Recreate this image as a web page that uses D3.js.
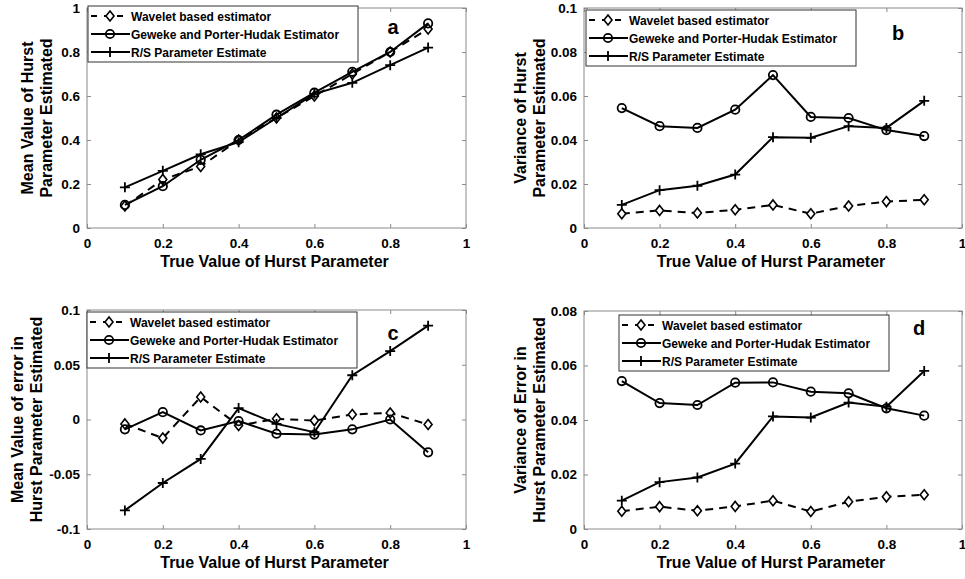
<!DOCTYPE html>
<html>
<head>
<meta charset="utf-8">
<script src="https://cdn.jsdelivr.net/npm/d3@7"></script>
<style>
  body { margin: 0; background: #fff; }
  svg { font-family: "Liberation Sans", Arial, sans-serif; font-weight: bold; }
</style>
</head>
<body>
<svg width="965" height="579"></svg>
<script>
// true Hurst values (x axis for every panel)
var hurst = [0.1, 0.2, 0.3, 0.4, 0.5, 0.6, 0.7, 0.8, 0.9];

// a: mean value of Hurst parameter estimated
var meanWavelet = [0.10, 0.22, 0.28, 0.40, 0.50, 0.60, 0.70, 0.80, 0.905];
var meanGPH     = [0.105, 0.19, 0.31, 0.40, 0.515, 0.615, 0.71, 0.80, 0.93];
var meanRS      = [0.185, 0.26, 0.335, 0.39, 0.50, 0.61, 0.66, 0.74, 0.82];

// b: variance of Hurst parameter estimated
var varWavelet = [0.0065, 0.008, 0.0068, 0.0083, 0.0105, 0.0065, 0.010, 0.012, 0.0128];
var varGPH     = [0.0545, 0.0463, 0.0455, 0.0538, 0.0695, 0.0505, 0.0500, 0.0445, 0.0418];
var varRS      = [0.0105, 0.0172, 0.0192, 0.0243, 0.0413, 0.041, 0.0463, 0.0455, 0.0578];

// c: mean value of error
var errWavelet = [-0.004, -0.017, 0.0205, -0.0055, 0.0006, -0.001, 0.0046, 0.006, -0.0046];
var errGPH     = [-0.009, 0.0067, -0.010, -0.0015, -0.013, -0.0138, -0.009, 0.0, -0.030];
var errRS      = [-0.083, -0.058, -0.036, 0.0104, -0.004, -0.0116, 0.0404, 0.0625, 0.0857];

// d: variance of error
var errVarWavelet = [0.0065, 0.0082, 0.0067, 0.0083, 0.0104, 0.0064, 0.010, 0.0118, 0.0126];
var errVarGPH     = [0.0543, 0.0462, 0.0455, 0.0537, 0.0538, 0.0504, 0.0498, 0.0443, 0.0416];
var errVarRS      = [0.0104, 0.0172, 0.0189, 0.024, 0.0413, 0.0409, 0.0464, 0.0449, 0.058];

// tick labels
var xTicks = [0, 0.2, 0.4, 0.6, 0.8, 1];
var ticksA = [0, 0.2, 0.4, 0.6, 0.8, 1];
var ticksB = [0, 0.02, 0.04, 0.06, 0.08, 0.1];
var ticksC = [-0.1, -0.05, 0, 0.05, 0.1];
var ticksD = [0, 0.02, 0.04, 0.06, 0.08];

var seriesNames = ['Wavelet based estimator', 'Geweke and Porter-Hudak Estimator', 'R/S Parameter Estimate'];
var xTitle = 'True Value of Hurst Parameter';

var svg = d3.select('svg');
var fmt = d => String(+d.toFixed(3));

var panels = [
  { tag: 'a', left: 87, right: 466, top: 8, bottom: 228, domain: [0, 1], ticks: ticksA,
    series: [meanWavelet, meanGPH, meanRS], yTitle: ['Mean Value of Hurst', 'Parameter Estimated'],
    yOff: 44, legend: [88, 6], tagPos: [393, 27] },
  { tag: 'b', left: 584, right: 962, top: 8, bottom: 228, domain: [0, 0.1], ticks: ticksB,
    series: [varWavelet, varGPH, varRS], yTitle: ['Variance of Hurst', 'Parameter Estimated'],
    yOff: 48, legend: [586, 10], tagPos: [898, 33] },
  { tag: 'c', left: 87, right: 466, top: 310, bottom: 529, domain: [-0.1, 0.1], ticks: ticksC,
    series: [errWavelet, errGPH, errRS], yTitle: ['Mean Value of error in', 'Hurst Parameter Estimated'],
    yOff: 54, legend: [87, 312], tagPos: [393, 333] },
  { tag: 'd', left: 584, right: 962, top: 311, bottom: 529, domain: [0, 0.08], ticks: ticksD,
    series: [errVarWavelet, errVarGPH, errVarRS], yTitle: ['Variance of Error in', 'Hurst Parameter Estimated'],
    yOff: 48, legend: [619, 315], tagPos: [919, 328] }
];

function drawMarker(g, type, x, y) {
  if (type === 0) {
    g.append('path')
      .attr('d', `M${x},${y - 5}L${x + 4},${y}L${x},${y + 5}L${x - 4},${y}Z`)
      .attr('fill', '#fff').attr('stroke', '#000').attr('stroke-width', 1.6);
  } else if (type === 1) {
    g.append('circle').attr('cx', x).attr('cy', y).attr('r', 4.2)
      .attr('fill', 'none').attr('stroke', '#000').attr('stroke-width', 1.8);
  } else {
    g.append('path')
      .attr('d', `M${x - 5},${y}H${x + 5}M${x},${y - 5}V${y + 5}`)
      .attr('stroke', '#000').attr('stroke-width', 1.8);
  }
}

panels.forEach(p => {
  var x = d3.scaleLinear().domain([0, 1]).range([p.left, p.right]);
  var y = d3.scaleLinear().domain(p.domain).range([p.bottom, p.top]);
  var g = svg.append('g');

  // box
  g.append('rect')
    .attr('x', p.left).attr('y', p.top)
    .attr('width', p.right - p.left).attr('height', p.bottom - p.top)
    .attr('fill', 'none').attr('stroke', '#8a8a8a').attr('stroke-width', 1);

  // axes with inward ticks
  g.append('g').attr('transform', `translate(0,${p.bottom})`)
    .call(d3.axisBottom(x).tickValues(xTicks).tickFormat(fmt).tickSizeInner(-4).tickSizeOuter(0).tickPadding(10));
  g.append('g').attr('transform', `translate(0,${p.top})`)
    .call(d3.axisTop(x).tickValues(xTicks).tickFormat('').tickSizeInner(-4).tickSizeOuter(0));
  g.append('g').attr('transform', `translate(${p.left},0)`)
    .call(d3.axisLeft(y).tickValues(p.ticks).tickFormat(fmt).tickSizeInner(-4).tickSizeOuter(0).tickPadding(7));
  g.append('g').attr('transform', `translate(${p.right},0)`)
    .call(d3.axisRight(y).tickValues(p.ticks).tickFormat('').tickSizeInner(-4).tickSizeOuter(0));
  g.selectAll('.domain').remove();
  g.selectAll('.tick line').attr('stroke', '#8a8a8a');
  g.selectAll('.tick text').attr('font-size', 13.5).attr('font-weight', 'bold')
    .attr('font-family', '"Liberation Sans", Arial, sans-serif').attr('fill', '#000');

  // titles
  g.append('text')
    .attr('x', (p.left + p.right) / 2 - 2).attr('y', p.bottom + 39)
    .attr('text-anchor', 'middle').attr('font-size', 16).text(xTitle);
  var yt = g.append('text')
    .attr('transform', `translate(${p.left - p.yOff},${(p.top + p.bottom) / 2}) rotate(-90)`)
    .attr('text-anchor', 'middle').attr('font-size', 16);
  yt.append('tspan').attr('x', 0).attr('dy', -10).text(p.yTitle[0]);
  yt.append('tspan').attr('x', 0).attr('dy', 19).text(p.yTitle[1]);

  // series
  var line = d3.line().x((d, i) => x(hurst[i])).y(d => y(d));
  p.series.forEach((vals, k) => {
    g.append('path').datum(vals)
      .attr('d', line).attr('fill', 'none').attr('stroke', '#000')
      .attr('stroke-width', 2)
      .attr('stroke-dasharray', k === 0 ? '8,6' : null);
    vals.forEach((v, i) => drawMarker(g, k, x(hurst[i]), y(v)));
  });

  // legend
  var lx = p.legend[0], ly = p.legend[1];
  var lg = g.append('g');
  lg.append('rect').attr('x', lx).attr('y', ly).attr('width', 270).attr('height', 56)
    .attr('fill', '#fff').attr('stroke', '#333').attr('stroke-width', 1);
  seriesNames.forEach((name, k) => {
    var ry = ly + 10 + k * 18;
    lg.append('line').attr('x1', lx + 3).attr('x2', lx + 42).attr('y1', ry).attr('y2', ry)
      .attr('stroke', '#000').attr('stroke-width', 2)
      .attr('stroke-dasharray', k === 0 ? '6,7' : null);
    drawMarker(lg, k, lx + 22, ry);
    lg.append('text').attr('x', lx + 43).attr('y', ry + 4.5)
      .attr('font-size', 12).text(name);
  });

  // panel tag
  g.append('text').attr('x', p.tagPos[0]).attr('y', p.tagPos[1] + 7)
    .attr('text-anchor', 'middle').attr('font-size', 20).text(p.tag);
});
</script>
</body>
</html>
